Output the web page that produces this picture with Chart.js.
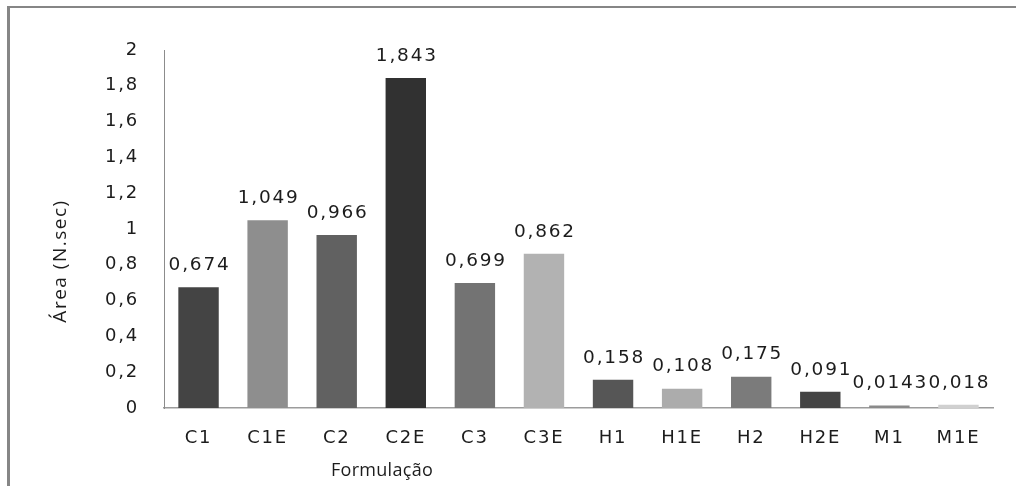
<!DOCTYPE html>
<html>
<head>
<meta charset="utf-8">
<script src="https://cdn.jsdelivr.net/npm/chart.js@4/dist/chart.umd.min.js"></script>
<style>
  html, body { margin: 0; padding: 0; background: #fff; overflow: hidden; }
  #frame {
    position: absolute; left: 7px; top: 6px; width: 1100px; height: 600px;
    border-left: 3px solid #868686; border-top: 2px solid #868686;
  }
  #c { position: absolute; left: 0; top: 0; }
</style>
</head>
<body>
<div id="frame"></div>
<canvas id="c" width="1016" height="486"></canvas>
<script>
// Formulations and measured area
const categories = ['C1', 'C1E', 'C2', 'C2E', 'C3', 'C3E', 'H1', 'H1E', 'H2', 'H2E', 'M1', 'M1E'];
const areaValues = [0.674, 1.049, 0.966, 1.843, 0.699, 0.862, 0.158, 0.108, 0.175, 0.091, 0.0143, 0.018];
const barColors = ['#444444', '#8e8e8e', '#616161', '#313131', '#737373', '#b2b2b2',
                   '#565656', '#acacac', '#7b7b7b', '#444444', '#8a8a8a', '#d0d0d0'];
const yTickValues = [0, 0.2, 0.4, 0.6, 0.8, 1, 1.2, 1.4, 1.6, 1.8, 2];
const yTickLabels = ['0', '0,2', '0,4', '0,6', '0,8', '1', '1,2', '1,4', '1,6', '1,8', '2'];
const xAxisTitle = 'Formulação';
const yAxisTitle = 'Área (N.sec)';

const textColor = '#1c1c1c';
const numFont = 'DejaVu Sans';
const titleFont = 'Open Sans';

// decimal comma, as in the tick labels
const fmt = v => String(v).replace('.', ',');

// Text spacing and title placement tweaks applied at draw time
const textTweaks = {
  id: 'textTweaks',
  beforeDraw(chart) {
    chart.ctx.letterSpacing = '1.8px';
    const xs = chart.scales.x, ys = chart.scales.y;
    if (!xs._tw) {
      const orig = xs.drawTitle;
      xs.drawTitle = function () {
        const c = this.ctx;
        c.save();
        c.letterSpacing = '0.3px';
        c.translate(382 - (this.left + this.right) / 2, 0);
        orig.call(this);
        c.restore();
      };
      xs._tw = true;
    }
    if (!ys._tw) {
      const orig = ys.drawTitle;
      ys.drawTitle = function () {
        const c = this.ctx;
        c.save();
        c.letterSpacing = '1.5px';
        c.translate(0, 261 - (this.top + this.bottom) / 2);
        orig.call(this);
        c.restore();
      };
      ys._tw = true;
    }
  }
};

// Value labels above each bar
const valueLabels = {
  id: 'valueLabels',
  afterDatasetsDraw(chart) {
    const ctx = chart.ctx;
    const meta = chart.getDatasetMeta(0);
    ctx.save();
    ctx.letterSpacing = '1.8px';
    ctx.font = '18.5px "' + numFont + '"';
    ctx.fillStyle = textColor;
    ctx.textAlign = 'center';
    ctx.textBaseline = 'middle';
    meta.data.forEach((bar, i) => {
      ctx.fillText(fmt(areaValues[i]), bar.x + 1, bar.y - 22);
    });
    ctx.restore();
  }
};

new Chart(document.getElementById('c'), {
  type: 'bar',
  data: {
    labels: categories,
    datasets: [{
      data: areaValues,
      backgroundColor: barColors,
      borderWidth: 0,
      barPercentage: 0.585,
      categoryPercentage: 1
    }]
  },
  options: {
    responsive: false,
    animation: false,
    devicePixelRatio: 1,
    layout: { padding: { top: 50, right: 23, left: 0, bottom: 0 } },
    plugins: { legend: { display: false }, tooltip: { enabled: false } },
    scales: {
      x: {
        grid: { display: false, drawTicks: false },
        border: { display: true, color: '#9c9c9c', width: 1.5 },
        ticks: {
          color: textColor,
          font: { family: numFont, size: 18 },
          padding: 20,
          maxRotation: 0,
          autoSkip: false
        },
        title: {
          display: true,
          text: xAxisTitle,
          color: textColor,
          font: { family: titleFont, size: 18 },
          padding: { top: 0, bottom: 4 }
        },
        afterFit(s) { s.height = 78; }
      },
      y: {
        min: 0,
        max: 2,
        grid: { display: false, drawTicks: false },
        border: { display: true, color: '#8c8c8c', width: 1 },
        ticks: {
          color: textColor,
          font: { family: numFont, size: 18 },
          padding: 25,
          callback(value) {
            const i = yTickValues.findIndex(t => Math.abs(t - value) < 1e-9);
            return i >= 0 ? yTickLabels[i] : '';
          }
        },
        afterBuildTicks(s) { s.ticks = yTickValues.map(v => ({ value: v })); },
        title: {
          display: true,
          text: yAxisTitle,
          color: textColor,
          font: { family: titleFont, size: 19 },
          padding: { top: 49, bottom: 0 }
        },
        afterFit(s) { s.width = 164; }
      }
    }
  },
  plugins: [textTweaks, valueLabels]
});
</script>
</body>
</html>
